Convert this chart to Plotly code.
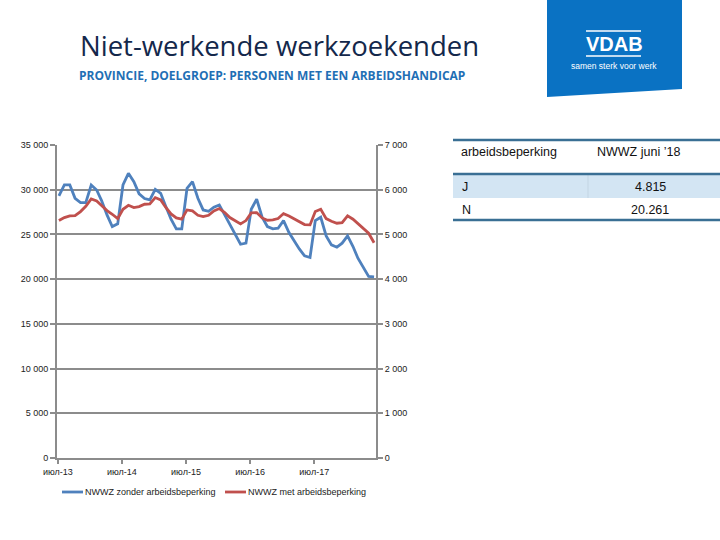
import pandas as pd
import plotly.graph_objects as go

# monthly figures, July 2013 - June 2018
months = pd.date_range("2013-07-01", periods=60, freq="MS")

zonder_ab = [29300, 30530, 30530, 29040, 28560, 28560, 30530, 29970, 28780, 27180,
             25880, 26180, 30530, 31830, 30900, 29530, 29010, 28860, 30050, 29600,
             28190, 26700, 25620, 25620, 30160, 30900, 29040, 27740, 27590, 28040,
             28300, 27180, 26070, 25060, 23900, 24020, 27820, 28930, 26920, 25880,
             25620, 25690, 26550, 25210, 24320, 23380, 22600, 22420, 26550, 26920,
             24840, 23830, 23570, 24020, 24840, 23650, 22340, 21340, 20300, 20261]

met_ab = [5310, 5377, 5414, 5421, 5511, 5630, 5794, 5749, 5645, 5533,
          5451, 5354, 5563, 5652, 5600, 5622, 5675, 5682, 5824, 5771,
          5608, 5459, 5369, 5340, 5548, 5526, 5429, 5399, 5429, 5526,
          5578, 5488, 5377, 5310, 5235, 5310, 5481, 5488, 5369, 5317,
          5325, 5354, 5466, 5414, 5354, 5295, 5220, 5213, 5511, 5563,
          5354, 5295, 5250, 5265, 5414, 5340, 5235, 5138, 5027, 4815]

series_names = ["NWWZ zonder arbeidsbeperking", "NWWZ met arbeidsbeperking"]

tick_months = ["2013-06-25", "2014-06-25", "2015-06-25", "2016-06-25", "2017-06-25"]
tick_labels = ["июл-13", "июл-14", "июл-15", "июл-16", "июл-17"]

table_header = ["arbeidsbeperking", "NWWZ juni \u201918"]
table_rows = [["J", "4.815"], ["N", "20.261"]]

BLUE = "#4F81BD"
RED = "#C0504D"
GRID = "#8c8c8c"

# plot area in pixels
L, R, T, B = 57, 376, 145, 458
W, H = 720, 540


def px_x(x):
    return (x - L) / (R - L)


def px_y(y):
    return (B - y) / (B - T)


fig = go.Figure()
fig.add_trace(go.Scatter(x=months, y=zonder_ab, mode="lines",
                         line=dict(color=BLUE, width=2.8), name=series_names[0]))
fig.add_trace(go.Scatter(x=months, y=met_ab, mode="lines", yaxis="y2",
                         line=dict(color=RED, width=2.8), name=series_names[1]))

tick_font = dict(family="Liberation Sans", size=9, color="#222222")

fig.update_layout(
    width=W, height=H,
    margin=dict(l=L, r=W - R, t=T, b=H - B, pad=0),
    paper_bgcolor="white", plot_bgcolor="white",
    separators=", ",
    showlegend=False,
    xaxis=dict(type="date", range=["2013-06-20", "2018-06-12"],
               tickvals=tick_months, ticktext=tick_labels,
               ticks="outside", ticklen=4, tickcolor=GRID, tickwidth=2,
               showline=True, linecolor=GRID, linewidth=2,
               showgrid=False, zeroline=False, tickfont=tick_font),
    yaxis=dict(range=[0, 35000], dtick=5000, tickformat=",d",
               ticks="outside", ticklen=5, tickcolor=GRID, tickwidth=2,
               showline=True, linecolor=GRID, linewidth=2,
               showgrid=True, gridcolor=GRID, gridwidth=2,
               zeroline=False, tickfont=tick_font),
    yaxis2=dict(range=[0, 7000], dtick=1000, tickformat=",d", overlaying="y", side="right",
                ticks="outside", ticklen=5, tickcolor=GRID, tickwidth=2,
                showline=True, linecolor=GRID, linewidth=2,
                showgrid=False, zeroline=False, tickfont=tick_font),
)

annotations = []
shapes = []

# legend drawn by hand so both entries stay on one row (short Excel-style keys)
for name, color, x0 in zip(series_names, (BLUE, RED), (62, 225)):
    shapes.append(dict(type="line", xref="paper", yref="paper",
                       x0=px_x(x0), x1=px_x(x0 + 21), y0=px_y(492), y1=px_y(492),
                       line=dict(color=color, width=2.8)))
    annotations.append(dict(text=name, xref="paper", yref="paper",
                            x=px_x(x0 + 21), y=px_y(492), xanchor="left", yanchor="middle",
                            showarrow=False,
                            font=dict(family="Liberation Sans", size=9, color="#222222")))

# title block
annotations.append(dict(text="Niet-werkende werkzoekenden", xref="paper", yref="paper",
                        x=px_x(78), y=px_y(45), xanchor="left", yanchor="middle",
                        showarrow=False,
                        font=dict(family="Open Sans", size=27.5, color="#14284b")))
annotations.append(dict(text="<b>PROVINCIE, DOELGROEP: PERSONEN MET EEN ARBEIDSHANDICAP</b>",
                        xref="paper", yref="paper", x=px_x(77), y=px_y(76),
                        xanchor="left", yanchor="middle", showarrow=False,
                        font=dict(family="Open Sans", size=12, color="#1f6fb5")))

# VDAB logo block
shapes.append(dict(type="path", xref="paper", yref="paper",
                   path=f"M {px_x(547)},{px_y(-2)} L {px_x(682)},{px_y(-2)} "
                        f"L {px_x(682)},{px_y(89)} L {px_x(547)},{px_y(97)} Z",
                   fillcolor="#0a72c3", line=dict(width=0), layer="above"))
for yy in (31, 56):
    shapes.append(dict(type="line", xref="paper", yref="paper",
                       x0=px_x(586), x1=px_x(641), y0=px_y(yy), y1=px_y(yy),
                       line=dict(color="white", width=1.5)))
annotations.append(dict(text="<b>VDAB</b>", xref="paper", yref="paper",
                        x=px_x(614), y=px_y(44), xanchor="center", yanchor="middle",
                        showarrow=False,
                        font=dict(family="Liberation Sans", size=20, color="white")))
annotations.append(dict(text="samen sterk voor werk", xref="paper", yref="paper",
                        x=px_x(614), y=px_y(66), xanchor="center", yanchor="middle",
                        showarrow=False,
                        font=dict(family="Liberation Sans", size=8.5, color="white")))

# summary table
TL, TR = 453, 722
shapes.append(dict(type="rect", xref="paper", yref="paper",
                   x0=px_x(TL), x1=px_x(TR), y0=px_y(175), y1=px_y(198),
                   fillcolor="#d3e5f3", line=dict(width=0)))
shapes.append(dict(type="line", xref="paper", yref="paper",
                   x0=px_x(588), x1=px_x(588), y0=px_y(175), y1=px_y(198),
                   line=dict(color="#c3d5e3", width=1)))
for yy in (140, 174, 220):
    shapes.append(dict(type="line", xref="paper", yref="paper",
                       x0=px_x(TL), x1=px_x(TR), y0=px_y(yy), y1=px_y(yy),
                       line=dict(color="#3a6f94", width=2.5)))

cell_font = dict(family="Liberation Sans", size=12.5, color="#111111")
annotations.append(dict(text=table_header[0], xref="paper", yref="paper",
                        x=px_x(459), y=px_y(152), xanchor="left", yanchor="middle",
                        showarrow=False, font=cell_font))
annotations.append(dict(text=table_header[1], xref="paper", yref="paper",
                        x=px_x(595), y=px_y(152), xanchor="left", yanchor="middle",
                        showarrow=False, font=cell_font))
for row, yy in zip(table_rows, (187, 210)):
    annotations.append(dict(text=row[0], xref="paper", yref="paper",
                            x=px_x(460), y=px_y(yy), xanchor="left", yanchor="middle",
                            showarrow=False, font=cell_font))
    annotations.append(dict(text=row[1], xref="paper", yref="paper",
                            x=px_x(650), y=px_y(yy), xanchor="center", yanchor="middle",
                            showarrow=False, font=cell_font))

fig.update_layout(annotations=annotations, shapes=shapes)

fig.write_html("out.html", config={"displayModeBar": False},
               post_script="document.body.style.margin='0';")
